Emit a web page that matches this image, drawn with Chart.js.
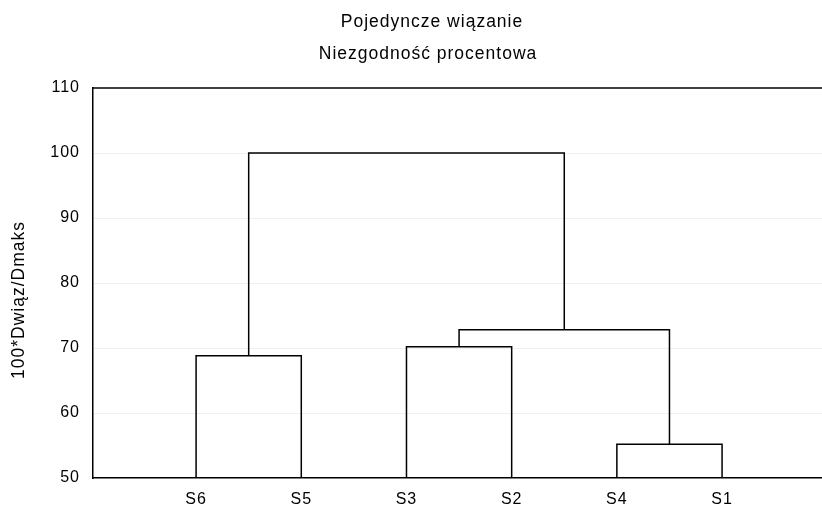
<!DOCTYPE html>
<html>
<head>
<meta charset="utf-8">
<script src="https://cdn.jsdelivr.net/npm/chart.js@4"></script>
<style>
  body { margin: 0; background: #fff; }
  #wrap { width: 822px; height: 505px; }
</style>
</head>
<body>
<div id="wrap"><canvas id="myChart" width="822" height="505"></canvas></div>
<script>
const titleLines = ["Pojedyncze wiązanie", "Niezgodność procentowa"];
const yTitle = "100*Dwiąz/Dmaks";
const leaves = ["S6", "S5", "S3", "S2", "S4", "S1"];
const yTicks = [50, 60, 70, 80, 90, 100, 110];

// merges: node ids 0..5 are leaves, each merge creates a new node (6, 7, ...)
const mergeLeft   = [4, 0, 2, 8, 7];
const mergeRight  = [5, 1, 3, 6, 9];
const mergeHeight = [55.2, 68.8, 70.2, 72.8, 100];

const baseLevel = 50;
const fontFamily = "'Liberation Sans', Arial, sans-serif";

// positions and heights of every node
const nodeX = leaves.map((_, i) => i + 1);
const nodeY = leaves.map(() => baseLevel);
const links = [];
mergeLeft.forEach((a, i) => {
  const b = mergeRight[i];
  const h = mergeHeight[i];
  links.push({
    label: "link" + i,
    data: [
      { x: nodeX[a], y: nodeY[a] },
      { x: nodeX[a], y: h },
      { x: nodeX[b], y: h },
      { x: nodeX[b], y: nodeY[b] },
    ],
    showLine: true,
    borderColor: "#000",
    borderWidth: 1.5,
    pointRadius: 0,
    fill: false,
  });
  nodeX.push((nodeX[a] + nodeX[b]) / 2);
  nodeY.push(h);
});

const frame = {
  id: "frame",
  beforeDraw(chart) {
    chart.ctx.letterSpacing = "1px";
  },
  afterDraw(chart) {
    const { ctx, chartArea } = chart;
    ctx.save();
    ctx.strokeStyle = "#000";
    ctx.lineWidth = 1.5;
    ctx.beginPath();
    ctx.moveTo(chartArea.left, chartArea.top);
    ctx.lineTo(chartArea.right, chartArea.top);
    ctx.stroke();

    ctx.fillStyle = "#000";
    ctx.letterSpacing = "1px";
    ctx.font = "17.5px " + fontFamily;
    ctx.textAlign = "center";
    ctx.textBaseline = "middle";
    ctx.fillText(titleLines[0], 432, 22);
    ctx.fillText(titleLines[1], 428, 54);

    ctx.translate(19, 300);
    ctx.rotate(-Math.PI / 2);
    ctx.fillText(yTitle, 0, 0);
    ctx.restore();
    ctx.letterSpacing = "0px";
  },
};

new Chart(document.getElementById("myChart"), {
  type: "scatter",
  data: { datasets: links },
  options: {
    responsive: false,
    animation: false,
    layout: { padding: { top: 88, right: 0, left: 0, bottom: 0 } },
    plugins: { legend: { display: false }, tooltip: { enabled: false } },
    scales: {
      x: {
        type: "linear",
        min: 0.02,
        max: 6.95,
        afterBuildTicks(axis) {
          axis.ticks = leaves.map((_, i) => ({ value: i + 1 }));
        },
        afterFit(axis) { axis.height = 27; },
        grid: { display: false, drawTicks: false },
        border: { color: "#000", width: 1.5 },
        ticks: {
          color: "#000",
          padding: 12,
          maxRotation: 0,
          autoSkip: false,
          font: { family: fontFamily, size: 16 },
          callback: (v) => leaves[v - 1],
        },
      },
      y: {
        min: 50,
        max: 110,
        afterBuildTicks(axis) {
          axis.ticks = yTicks.map((v) => ({ value: v }));
        },
        afterFit(axis) { axis.width = 93; },
        grid: {
          drawTicks: false,
          color: (c) => (c.tick.value > 50 && c.tick.value < 110 ? "rgba(0,0,0,0.06)" : "rgba(0,0,0,0)"),
        },
        border: { color: "#000", width: 1.5 },
        ticks: {
          color: "#000",
          padding: 13,
          font: { family: fontFamily, size: 16 },
        },
      },
    },
  },
  plugins: [frame],
});
</script>
</body>
</html>
